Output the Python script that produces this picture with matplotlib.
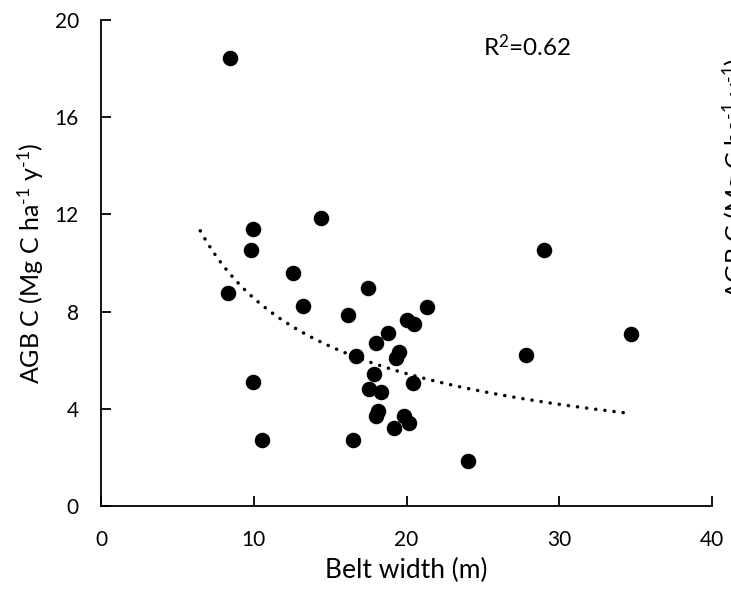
import numpy as np
import matplotlib
matplotlib.use("Agg")
import matplotlib.pyplot as plt

plt.rcParams['font.family'] = ['Lato', 'DejaVu Sans']
plt.rcParams['mathtext.fontset'] = 'custom'
plt.rcParams['mathtext.rm'] = 'Lato'
plt.rcParams['mathtext.it'] = 'Lato:italic'
plt.rcParams['mathtext.bf'] = 'Lato:bold'

# belt width (m) and above-ground biomass carbon (Mg C ha-1 y-1)
belt_width = [8.44, 14.4, 9.95, 9.8, 29.0, 12.6, 8.29, 17.5, 13.2, 16.15,
              21.34, 20.0, 20.5, 18.8, 18.0, 19.5, 19.3, 16.67, 27.8, 34.68,
              17.85, 20.45, 9.95, 17.56, 18.3, 18.15, 18.0, 19.83, 20.18,
              19.2, 10.52, 16.52, 24.03]
agb_c = [18.42, 11.87, 11.38, 10.55, 10.52, 9.58, 8.78, 8.99, 8.23, 7.86,
         8.19, 7.64, 7.47, 7.1, 6.71, 6.35, 6.1, 6.17, 6.23, 7.07,
         5.42, 5.08, 5.1, 4.83, 4.71, 3.91, 3.69, 3.71, 3.41,
         3.19, 2.72, 2.72, 1.86]

# power trendline y = a * x^b
trend_a = 38.3
trend_b = -0.651
trend_x_range = (6.5, 34.3)
r_squared = 0.62

y_title = r'AGB C (Mg C ha$^{\text{-}1}$ y$^{\text{-}1}$)'

fig = plt.figure(figsize=(7.31, 5.95), dpi=100)
ax = fig.add_axes([101 / 731, 1 - 506 / 595, 611 / 731, 486 / 595])

ax.scatter(belt_width, agb_c, s=125, color='black', zorder=3, linewidths=0)

tx = np.linspace(trend_x_range[0], trend_x_range[1], 300)
ax.plot(tx, trend_a * tx ** trend_b, color='black', lw=2.5,
        linestyle=(0, (0.05, 2.6)), dash_capstyle='round', zorder=2)

ax.set_xlim(0, 40)
ax.set_ylim(0, 20)
ax.set_xticks([0, 10, 20, 30, 40])
ax.set_yticks([0, 4, 8, 12, 16, 20])

for side in ['top', 'right']:
    ax.spines[side].set_visible(False)
for side in ['left', 'bottom']:
    ax.spines[side].set_linewidth(1.3)

ax.tick_params(direction='in', length=7, width=1.3, labelsize=15,
               color='black')
ax.tick_params(axis='x', pad=17)
ax.tick_params(axis='y', pad=16)

ax.set_xlabel('Belt width (m)', fontsize=19, labelpad=6)
ax.set_ylabel(y_title, fontsize=18, labelpad=6)

ax.text(27.9, 18.9, f'R$^2$={r_squared:.2f}', fontsize=17.5,
        ha='center', va='center')

# second axis title, mostly outside the right edge
fig.text(736 / 731, 1 - 178 / 595, y_title,
         fontsize=18, rotation=90, ha='center', va='center')

fig.savefig('out.png', dpi=100)
